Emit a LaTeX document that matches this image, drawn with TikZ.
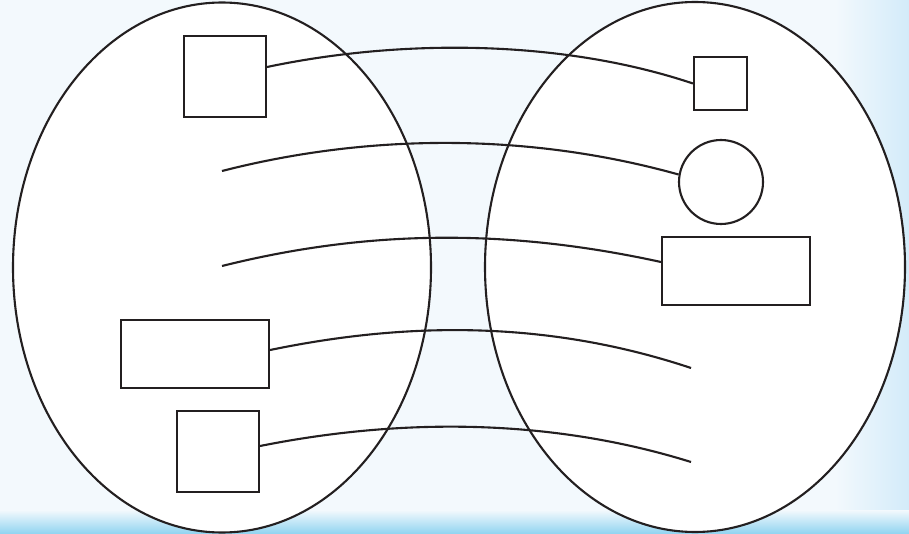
\documentclass[tikz,border=0pt]{standalone}
\usetikzlibrary{shapes.geometric}
\definecolor{bgblue}{HTML}{F3F9FD}
\definecolor{edgeblue}{HTML}{D3EBF9}
\definecolor{bottomblue}{HTML}{8FD3F0}
\definecolor{inkline}{HTML}{231F20}
\begin{document}
\begin{tikzpicture}[x=1pt,y=-1pt,
  ln/.style={line width=2.1pt, draw=inkline},
  setshape/.style={ellipse, inner sep=0pt, minimum width=418pt, minimum height=530pt, fill=white},
  boxshape/.style={rectangle, ln, inner sep=0pt, fill=white},
  roundshape/.style={circle, ln, inner sep=0pt, minimum size=84pt, fill=white},
  link/.style={ln}]
\useasboundingbox (0,0) rectangle (909,534);
\fill[bgblue] (0,0) rectangle (909,534);
\shade[left color=bgblue, right color=edgeblue] (835,0) rectangle (909,534);
\shade[top color=bgblue, bottom color=bottomblue] (0,510) rectangle (909,534);
% sets
\node[setshape] (A) at (222,267.5) {};
\node[setshape] (B) at (695,267) {};
\draw[ln] (A.center) ellipse [x radius=209pt, y radius=265pt];
\draw[ln] (B.center) ellipse [x radius=210pt, y radius=265pt];
% left elements
\node[boxshape, minimum width=82pt, minimum height=81pt] (a1) at (225,76.5) {};
\node[boxshape, minimum width=148pt, minimum height=68pt] (a4) at (195,354) {};
\node[boxshape, minimum width=82pt, minimum height=81pt] (a5) at (218,451.5) {};
\coordinate (a2) at (222,171);
\coordinate (a3) at (222,266);
% right elements
\node[boxshape, minimum width=53pt, minimum height=53pt] (b1) at (720.5,83.5) {};
\node[roundshape] (b2) at (721,182) {};
\node[boxshape, minimum width=148pt, minimum height=68pt] (b3) at (736,271) {};
\coordinate (b4) at (691,368);
\coordinate (b5) at (691,462);
% links
\draw[link] ([yshift=9.5pt]a1.east) .. controls (400,39) and (560,39) .. (b1.west);
\draw[link] (a2) .. controls (370,133) and (530,133) .. (b2.170);
\draw[link] (a3) .. controls (370,229) and (510,229) .. ([yshift=9pt]b3.west);
\draw[link] ([yshift=4pt]a4.east) .. controls (410,321) and (550,321) .. (b4);
\draw[link] ([yshift=5.5pt]a5.east) .. controls (400,418) and (550,418) .. (b5);
\end{tikzpicture}
\end{document}
